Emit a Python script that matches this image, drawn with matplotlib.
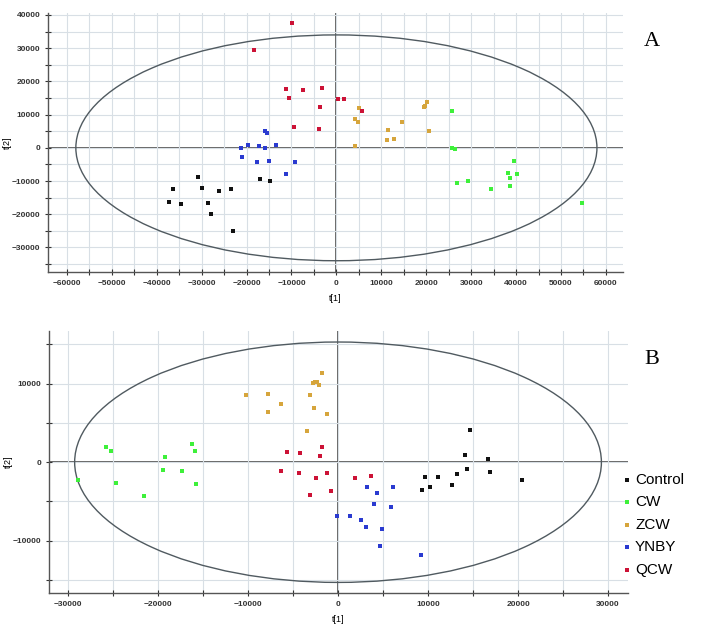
import numpy as np
import matplotlib
matplotlib.use("Agg")
import matplotlib.pyplot as plt
from matplotlib.patches import Ellipse

plt.rcParams['font.family'] = ['Liberation Sans', 'DejaVu Sans']

groups = ['Control', 'CW', 'ZCW', 'YNBY', 'QCW']
colors = {'Control': '#111111', 'CW': '#3ef03a', 'ZCW': '#d6a53c',
          'YNBY': '#2a3ad0', 'QCW': '#cc1236'}

# panel A scores (t[1], t[2])
a_control_x = [-30890, -36370, -29840, -26130, -23390, -17080, -14700, -37190, -34520, -28510, -27990, -23100]
a_control_y = [-8730, -12530, -12050, -12950, -12350, -9520, -10030, -16450, -16960, -16750, -20060, -25180]
a_cw_x = [25770, 25800, 26300, 26880, 29330, 34450, 39490, 38150, 38600, 40310, 38690, 54630]
a_cw_y = [11140, -200, -400, -10730, -10030, -12350, -4000, -7530, -9040, -8010, -11540, -16750]
a_zcw_x = [5120, 4160, 4750, 4080, 11430, 11200, 12770, 14630, 19450, 20200, 20560, 19800]
a_zcw_y = [11860, 8750, 7640, 400, 5230, 2300, 2710, 7740, 12350, 13770, 5030, 12500]
a_ynby_x = [-15970, -15440, -21160, -19750, -17300, -15880, -13360, -20940, -17750, -15080, -9200, -11200]
a_ynby_y = [5030, 4430, 0, 1000, 500, 0, 1000, -2700, -4300, -4000, -4300, -7900]
a_qcw_x = [-9870, -18400, -11200, -7500, -3200, -10500, 400, 1600, -3600, -9350, -3900, 5700]
a_qcw_y = [37560, 29500, 17800, 17300, 18000, 15000, 14600, 14700, 12300, 6400, 5700, 11000]

# panel B scores
b_control_x = [14630, 14140, 16670, 14370, 16930, 13250, 9650, 11100, 20460, 9290, 10250, 12630]
b_control_y = [4080, 970, 420, -810, -1270, -1490, -1910, -1910, -2250, -3530, -3100, -2930]
b_cw_x = [-25720, -25230, -28880, -24610, -21600, -19220, -19490, -17370, -16180, -15880, -15810]
b_cw_y = [1950, 1480, -2250, -2640, -4250, 710, -940, -1110, 2330, 1400, -2720]
b_zcw_x = [-1820, -2780, -2520, -2290, -2070, -10170, -7800, -6380, -7800, -3070, -2700, -1180, -3490]
b_zcw_y = [11420, 10100, 10150, 10150, 9810, 8570, 8660, 7430, 6370, 8570, 6880, 6190, 3990]
b_ynby_x = [3230, 4340, 6090, 4050, 5830, 1340, 2600, 3120, 4870, 4640, 9240, -110]
b_ynby_y = [-3100, -3870, -3190, -5350, -5730, -6840, -7350, -8200, -8540, -10660, -11850, -6800]
b_qcw_x = [-5630, -4230, -1780, -2040, -6380, -4300, -2480, -1260, -3120, -780, 1940, 3670]
b_qcw_y = [1270, 1180, 1910, 800, -1150, -1360, -2040, -1320, -4170, -3700, -2000, -1790]

# Hotelling T2 ellipse semi-axes
a_ell = (58000, 34000)
b_ell = (29250, 15300)

panel_a = {'Control': (a_control_x, a_control_y), 'CW': (a_cw_x, a_cw_y),
           'ZCW': (a_zcw_x, a_zcw_y), 'YNBY': (a_ynby_x, a_ynby_y),
           'QCW': (a_qcw_x, a_qcw_y)}
panel_b = {'Control': (b_control_x, b_control_y), 'CW': (b_cw_x, b_cw_y),
           'ZCW': (b_zcw_x, b_zcw_y), 'YNBY': (b_ynby_x, b_ynby_y),
           'QCW': (b_qcw_x, b_qcw_y)}

fig = plt.figure(figsize=(7.09, 6.31), dpi=100)
axA = fig.add_axes([0.0677, 0.5689, 0.811, 0.4105])
axB = fig.add_axes([0.0691, 0.0602, 0.8166, 0.4152])


def style(ax, data, ell, xlim, ylim, xmaj, ymaj, step):
    ax.set_xticks(xmaj)
    ax.set_yticks(ymaj)
    ax.set_xticks(np.arange(-60000, 60001, step), minor=True)
    ax.set_yticks(np.arange(-60000, 60001, step), minor=True)
    ax.grid(which='both', color='#d8dfe5', lw=0.8, zorder=0)
    for s in ['top', 'right']:
        ax.spines[s].set_visible(False)
    for s in ['left', 'bottom']:
        ax.spines[s].set_color('#555555')
        ax.spines[s].set_linewidth(1.0)
    ax.tick_params(which='both', direction='inout', length=4, width=0.8,
                   color='#333333', labelsize=6, labelcolor='#333333')
    for lab in ax.get_xticklabels() + ax.get_yticklabels():
        lab.set_fontweight('bold')
    ax.axhline(0, color='#4a4a4a', lw=1.2, zorder=1)
    ax.axvline(0, color='#4a4a4a', lw=1.2, zorder=1)
    ax.add_patch(Ellipse((0, 0), 2 * ell[0], 2 * ell[1], fill=False,
                         ec='#505a60', lw=1.0, zorder=2))
    for g in groups:
        x, y = data[g]
        ax.scatter(x, y, marker='s', s=12, color=colors[g], lw=0, zorder=3, label=g)
    ax.set_xlim(*xlim)
    ax.set_ylim(*ylim)
    ax.set_xlabel('t[1]', fontsize=6.5, labelpad=5)
    ax.set_ylabel('t[2]', fontsize=6.5)
    ax.yaxis.set_label_coords(-0.062, 0.5)


style(axA, panel_a, a_ell, (-64200, 63800), (-37400, 40600),
      np.arange(-60000, 60001, 10000), np.arange(-30000, 40001, 10000), 5000)
style(axB, panel_b, b_ell, (-32100, 32200), (-16650, 16700),
      np.arange(-30000, 30001, 10000), [-10000, 0, 10000], 5000)

fig.text(0.92, 0.935, 'A', family='Liberation Serif', fontsize=16, ha='center', va='center')
fig.text(0.92, 0.43, 'B', family='Liberation Serif', fontsize=16, ha='center', va='center')

handles, labels = axB.get_legend_handles_labels()
fig.legend(handles, labels, loc='upper left', bbox_to_anchor=(0.872, 0.26),
           frameon=False, fontsize=11, handlelength=0.4, handletextpad=0.3,
           labelspacing=0.55, markerscale=1.0, borderaxespad=0)

fig.savefig('out.png', dpi=100)
